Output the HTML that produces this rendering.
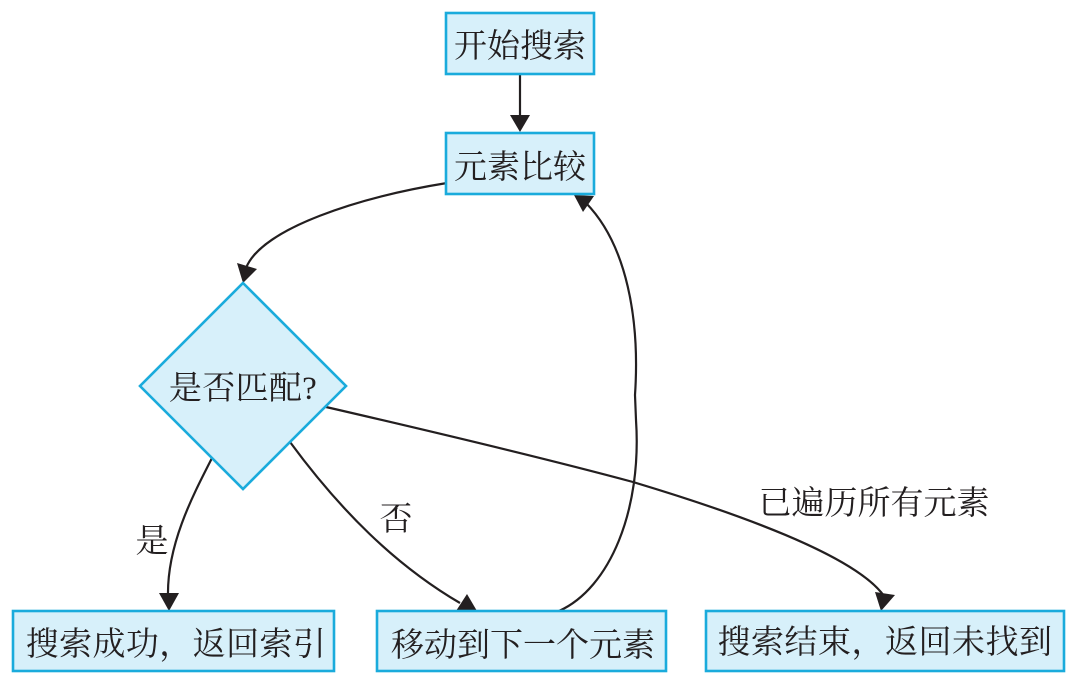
<!DOCTYPE html>
<html lang="zh">
<head>
<meta charset="utf-8">
<style>
html,body{margin:0;padding:0;background:#fff;width:1077px;height:684px;overflow:hidden}
svg{display:block}
text{font-family:"Liberation Serif","Noto Serif CJK SC",serif;font-size:33px;fill:#231f20;text-anchor:middle}
.n{fill:#d7f0fa;stroke:#1aabdc;stroke-width:2.6}
.e{fill:none;stroke:#231f20;stroke-width:2.2}
.a{fill:#231f20;stroke:none}
</style>
</head>
<body>
<svg width="1077" height="684" viewBox="0 0 1077 684" xmlns="http://www.w3.org/2000/svg">
<path class="e" d="M520 75V118"/>
<path class="a" d="M510 115H530L520 132Z"/>
<path class="e" d="M447 183C360 197 262 228 246 268"/>
<path class="a" d="M237 263L257 269L243 283Z"/>
<path class="e" d="M212 458C192 497 167 545 168 596"/>
<path class="a" d="M159 593H179L169 611Z"/>
<path class="e" d="M290 442C340 510 395 565 460 603"/>
<path class="a" d="M456 611L467 594L477 611Z"/>
<path class="e" d="M326 407C430 431 540 457 633 482C733 512 855 555 884 596"/>
<path class="a" d="M875 592L895 595L881 611Z"/>
<path class="e" d="M559 611C610 588 642 510 636 420L635 395C640 320 627 245 586 203"/>
<path class="a" d="M574 195L594 196L583 212Z"/>
<rect class="n" x="446" y="13" width="148" height="61"/>
<rect class="n" x="446" y="133" width="148" height="61"/>
<polygon class="n" points="243,283 346,386 243,489 140,386"/>
<rect class="n" x="13" y="611" width="321" height="60"/>
<rect class="n" x="377" y="611" width="289" height="60"/>
<rect class="n" x="706" y="611" width="358" height="60"/>
<text x="520" y="57">开始搜索</text>
<text x="520" y="178">元素比较</text>
<text x="243" y="399" letter-spacing="0.3">是否匹配?</text>
<text x="176" y="655" letter-spacing="0.4">搜索成功，返回索引</text>
<text x="523" y="656">移动到下一个元素</text>
<text x="885" y="653" letter-spacing="0.5">搜索结束，返回未找到</text>
<text x="152" y="552">是</text>
<text x="396" y="530">否</text>
<text x="874" y="514">已遍历所有元素</text>
</svg>
</body>
</html>
